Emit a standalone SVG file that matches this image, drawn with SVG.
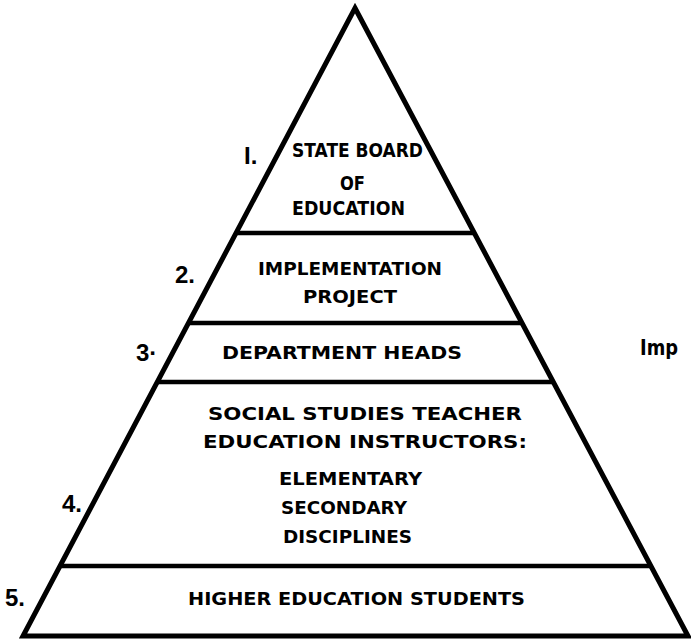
<svg xmlns="http://www.w3.org/2000/svg" width="691" height="640" viewBox="0 0 691 640">
  <style>
    .edge { fill: none; stroke: #000; stroke-width: 5; stroke-linejoin: miter; stroke-linecap: butt; }
    .rule { stroke: #000; stroke-width: 4.5; stroke-linecap: butt; }
    .lbl { font-family: "DejaVu Sans", "Liberation Sans", sans-serif; font-weight: bold; fill: #000; font-size: 17.5px; }
    .num { font-family: "Liberation Sans", Arial, sans-serif; font-weight: bold; fill: #000; font-size: 24px; }
  </style>
  <rect width="691" height="640" fill="#fff"/>

  <!-- pyramid outline and tier dividers -->
  <g id="frame">
    <polygon class="edge" points="355,8 688,636 23,636"/>
    <line class="rule" x1="236" y1="233" x2="474" y2="233"/>
    <line class="rule" x1="188" y1="323" x2="522" y2="323"/>
    <line class="rule" x1="156" y1="382" x2="553" y2="382"/>
    <line class="rule" x1="60" y1="566" x2="651" y2="566"/>
  </g>

  <g id="tier1">
    <text class="num" x="244" y="164">I.</text>
    <text class="lbl" style="font-size:19px" x="292" y="157" textLength="131" lengthAdjust="spacingAndGlyphs">STATE BOARD</text>
    <text class="lbl" style="font-size:19px" x="340" y="190" textLength="25" lengthAdjust="spacingAndGlyphs">OF</text>
    <text class="lbl" style="font-size:19px" x="292" y="215" textLength="113" lengthAdjust="spacingAndGlyphs">EDUCATION</text>
  </g>

  <g id="tier2">
    <text class="num" x="175" y="283">2.</text>
    <text class="lbl" x="258" y="275" textLength="184" lengthAdjust="spacingAndGlyphs">IMPLEMENTATION</text>
    <text class="lbl" x="303" y="303" textLength="94" lengthAdjust="spacingAndGlyphs">PROJECT</text>
  </g>

  <g id="tier3">
    <text class="num" x="136" y="361">3·</text>
    <text class="lbl" x="222" y="359" textLength="240" lengthAdjust="spacingAndGlyphs">DEPARTMENT  HEADS</text>
  </g>

  <g id="tier4">
    <text class="num" x="62" y="512">4.</text>
    <text class="lbl" x="208" y="420" textLength="314" lengthAdjust="spacingAndGlyphs">SOCIAL STUDIES TEACHER</text>
    <text class="lbl" x="203" y="448" textLength="324" lengthAdjust="spacingAndGlyphs">EDUCATION  INSTRUCTORS:</text>
    <text class="lbl" x="279" y="485" textLength="143" lengthAdjust="spacingAndGlyphs">ELEMENTARY</text>
    <text class="lbl" x="281" y="514" textLength="126" lengthAdjust="spacingAndGlyphs">SECONDARY</text>
    <text class="lbl" x="283" y="543" textLength="129" lengthAdjust="spacingAndGlyphs">DISCIPLINES</text>
  </g>

  <g id="tier5">
    <text class="num" x="5" y="606">5.</text>
    <text class="lbl" x="188" y="605" textLength="337" lengthAdjust="spacingAndGlyphs">HIGHER  EDUCATION STUDENTS</text>
  </g>

  <g id="side-note">
    <text class="lbl" style="font-size:21px" x="640" y="355" textLength="38" lengthAdjust="spacingAndGlyphs">Imp</text>
  </g>
</svg>
